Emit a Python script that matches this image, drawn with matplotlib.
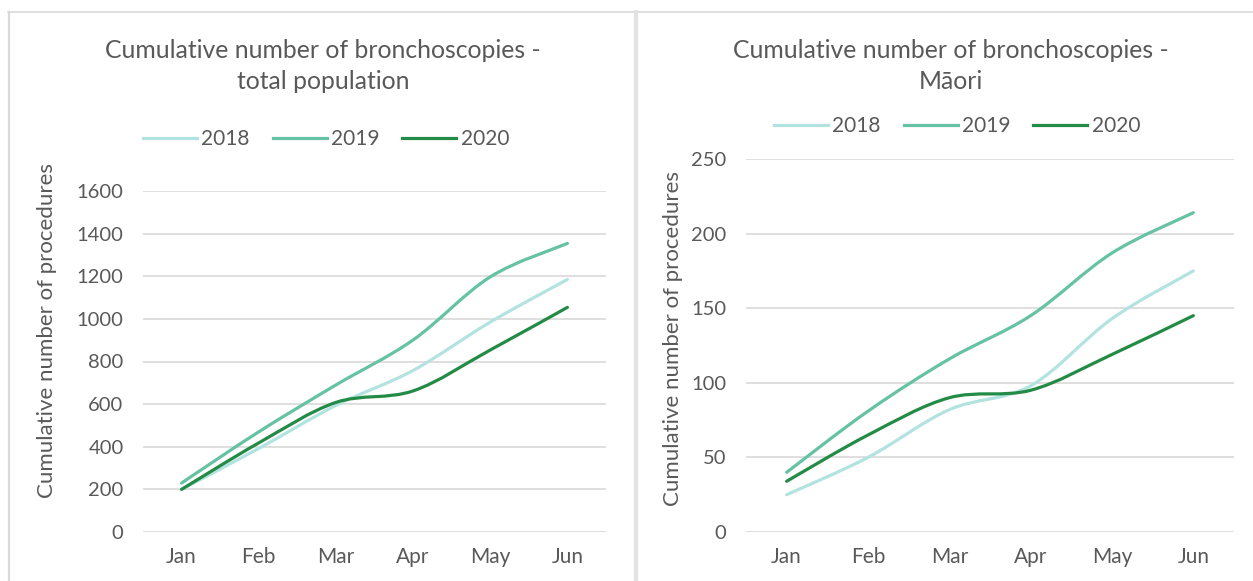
import matplotlib
matplotlib.use("Agg")
import matplotlib.pyplot as plt
from matplotlib.path import Path
from matplotlib.patches import PathPatch
from matplotlib.lines import Line2D
import numpy as np

months = ["Jan", "Feb", "Mar", "Apr", "May", "Jun"]
years = ["2018", "2019", "2020"]

total_2018 = [200, 392, 594, 758, 985, 1185]
total_2019 = [230, 470, 690, 901, 1197, 1354]
total_2020 = [200, 418, 608, 662, 854, 1054]

maori_2018 = [25, 50, 82, 98, 143, 175]
maori_2019 = [40, 81, 116, 145, 187, 214]
maori_2020 = [34, 65, 90, 95, 119, 145]

colors = ["#b3e3e0", "#66c2a4", "#238b45"]
text_color = "#595959"
grid_color = "#d9d9d9"

plt.rcParams["font.family"] = ["Lato", "DejaVu Sans"]

W, H = 1253, 581
fig = plt.figure(figsize=(W / 100, H / 100), dpi=100)


def px_box(x0, x1, ytop, ybot):
    return [x0 / W, 1 - ybot / H, (x1 - x0) / W, (ybot - ytop) / H]


def smooth_path(xs, ys):
    # Excel-style smoothed line (Catmull-Rom as cubic Bezier)
    pts = np.column_stack([xs, ys]).astype(float)
    n = len(pts)
    verts = [pts[0]]
    codes = [Path.MOVETO]
    for i in range(n - 1):
        p0 = pts[i - 1] if i > 0 else pts[i]
        p1 = pts[i]
        p2 = pts[i + 1]
        p3 = pts[i + 2] if i + 2 < n else pts[i + 1]
        c1 = p1 + (p2 - p0) / 6.0
        c2 = p2 - (p3 - p1) / 6.0
        verts += [c1, c2, p2]
        codes += [Path.CURVE4] * 3
    return Path(verts, codes)


def draw_panel(box, series, ymax, ystep, title, title_xy, legend_xy, ylab_xy):
    x0, x1, ytop, ybot = box
    ax = fig.add_axes(px_box(*box))
    x = np.arange(len(months))
    for vals, c in zip(series, colors):
        patch = PathPatch(smooth_path(x, vals), fill=False, edgecolor=c,
                          linewidth=2.3, capstyle="round", joinstyle="round",
                          transform=ax.transData, zorder=3)
        ax.add_patch(patch)
    ax.set_xlim(-0.5, len(months) - 0.5)
    ax.set_ylim(0, ymax)
    ax.set_yticks(np.arange(0, ymax + 1, ystep))
    ax.set_xticks(x)
    ax.set_xticklabels(months)
    ax.grid(axis="y", color=grid_color, linewidth=1.2)
    ax.set_axisbelow(True)
    for s in ax.spines.values():
        s.set_visible(False)
    ax.tick_params(axis="both", length=0, labelsize=14.5, colors=text_color)
    ax.tick_params(axis="x", labelsize=15)
    ax.tick_params(axis="y", pad=14)
    ax.tick_params(axis="x", pad=11)
    ax.set_ylabel("Cumulative number of procedures", fontsize=16,
                  color=text_color)
    ax.yaxis.set_label_coords((ylab_xy[0] - x0) / (x1 - x0),
                              (ybot - ylab_xy[1]) / (ybot - ytop))
    ax.yaxis.label.set_verticalalignment("center")
    fig.text(title_xy[0] / W, 1 - title_xy[1] / H, title, ha="center",
             va="center", fontsize=17.8, color=text_color, linespacing=1.42)
    handles = [Line2D([], [], color=c, linewidth=2.3) for c in colors]
    fig.legend(handles, years, loc="center", ncol=3, frameon=False,
               bbox_to_anchor=(legend_xy[0] / W, 1 - legend_xy[1] / H),
               fontsize=15, labelcolor=text_color, handlelength=2.6,
               handletextpad=0.2, columnspacing=1.1)
    return ax


draw_panel((143, 606, 191, 532), [total_2018, total_2019, total_2020],
           1600, 200, "Cumulative number of bronchoscopies -\ntotal population",
           (323, 66), (326, 139), (47, 331))
draw_panel((746, 1234, 159, 532), [maori_2018, maori_2019, maori_2020],
           250, 50, "Cumulative number of bronchoscopies -\nMāori",
           (951, 66), (957, 126), (673, 338))

# panel borders
fig.add_artist(Line2D([8 / W, 1252 / W], [1 - 12 / H, 1 - 12 / H],
                      color=grid_color, linewidth=1.2, transform=fig.transFigure))
fig.add_artist(Line2D([9 / W, 9 / W], [0, 1 - 12 / H],
                      color=grid_color, linewidth=1.6, transform=fig.transFigure))
fig.add_artist(Line2D([636 / W, 636 / W], [0, 1 - 12 / H],
                      color="#e3e3e3", linewidth=3.0, transform=fig.transFigure))

fig.savefig("out.png", dpi=100)
